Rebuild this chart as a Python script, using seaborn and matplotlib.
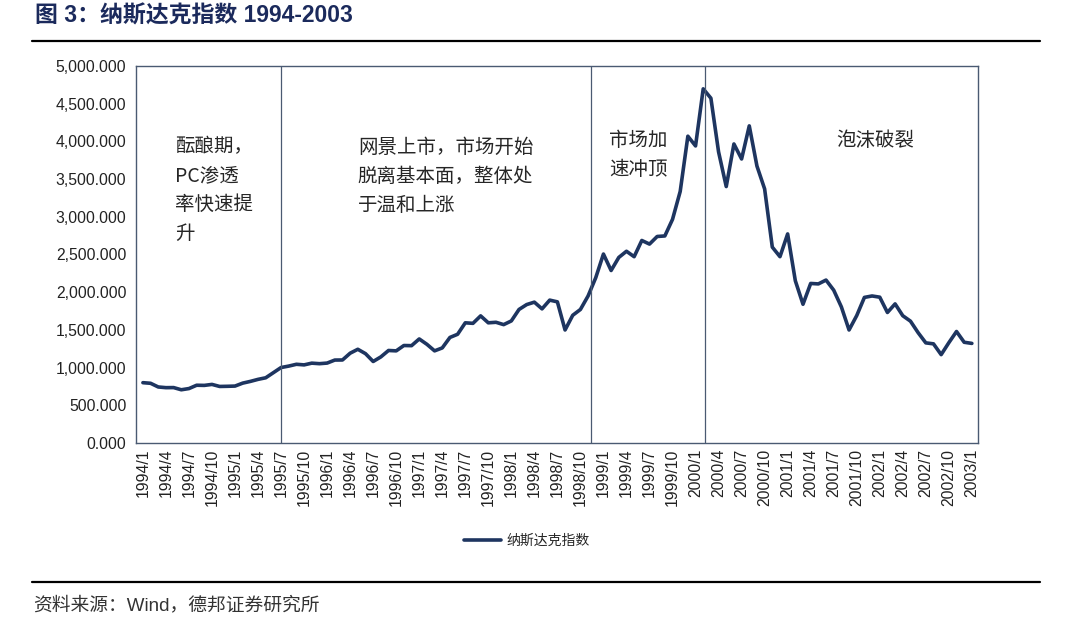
import matplotlib
matplotlib.use("Agg")
import matplotlib.pyplot as plt
import matplotlib.ticker as mticker
import pandas as pd
import seaborn as sns

# monthly closes, 1994/1 .. 2003/1
years = list(range(1994, 2004))
nasdaq = [
    800, 792, 743, 734, 735, 706, 722, 766, 764, 777, 750, 752,          # 1994
    755, 794, 817, 844, 865, 933, 1001, 1020, 1044, 1036, 1059, 1052,    # 1995
    1060, 1100, 1101, 1191, 1243, 1185, 1081, 1142, 1227, 1222, 1293, 1291,  # 1996
    1380, 1309, 1222, 1261, 1400, 1442, 1594, 1587, 1686, 1594, 1601, 1570,  # 1997
    1619, 1771, 1836, 1868, 1779, 1895, 1872, 1499, 1694, 1771, 1950, 2193,  # 1998
    2506, 2288, 2461, 2543, 2471, 2686, 2638, 2739, 2746, 2966, 3336, 4069,  # 1999
    3940, 4697, 4573, 3861, 3401, 3966, 3767, 4206, 3673, 3370, 2598, 2471,  # 2000
    2773, 2152, 1840, 2116, 2110, 2161, 2027, 1805, 1499, 1690, 1931, 1950,  # 2001
    1934, 1731, 1845, 1688, 1616, 1463, 1328, 1315, 1172, 1330, 1479, 1336,  # 2002
    1321,                                                                # 2003
]
months = [f"{y}/{m}" for y in years for m in range(1, 13)][:len(nasdaq)]

phase_breaks = [18, 58.4, 73.2]
phase_notes = [
    (4.2, 4070, "酝酿期，\nPC渗透\n率快速提\n升"),
    (28.0, 4060, "网景上市，市场开始\n脱离基本面，整体处\n于温和上涨"),
    (60.7, 4150, "市场加\n速冲顶"),
    (90.4, 4150, "泡沫破裂"),
]

df = pd.DataFrame({"idx": range(len(nasdaq)), "month": months, "value": nasdaq})

sns.set_style("white")
plt.rcParams["font.family"] = ["Liberation Sans", "Noto Sans CJK SC", "DejaVu Sans"]

navy = "#1e3560"
fig = plt.figure(figsize=(10.8, 6.24), dpi=100)
ax = fig.add_axes([136 / 1080, 1 - 443 / 624, 842 / 1080, 377 / 624])

sns.lineplot(data=df, x="idx", y="value", ax=ax, color=navy, linewidth=2.6,
             label="纳斯达克指数", legend=False)

for b in phase_breaks:
    ax.axvline(b, color="#4a5a72", linewidth=0.9)

for x, y, t in phase_notes:
    ax.text(x, y, t, fontsize=14, color="#262626", va="top", ha="left",
            linespacing=1.5, family=["Noto Sans CJK SC"])

ax.set_xlim(-0.9, 108.8)
ax.set_ylim(0, 5000)
ax.set_yticks(range(0, 5001, 500))
ax.yaxis.set_major_formatter(mticker.FuncFormatter(lambda v, p: f"{v:,.3f}"))
ax.set_xticks(df.idx[::3])
ax.set_xticklabels(df.month[::3], rotation=90)
ax.set_xticks(df.idx, minor=True)
ax.tick_params(axis="x", which="both", direction="in", length=4, width=0.8,
               color="#4a5a72", labelsize=11.3, pad=4, labelcolor="#222222")
ax.tick_params(axis="y", direction="out", length=4, width=0.8, color="#4a5a72",
               labelsize=11.3, labelcolor="#222222", pad=3)
ax.set_xlabel("")
ax.set_ylabel("")
for s in ax.spines.values():
    s.set_color("#4a5a72")
    s.set_linewidth(1.0)

handles, labels = ax.get_legend_handles_labels()
fig.legend(handles, labels, loc="center", bbox_to_anchor=(527 / 1080, 1 - 541 / 624),
           frameon=False, prop={"family": "Noto Sans CJK SC", "size": 10},
           handlelength=2.7, handletextpad=0.4)

fig.text(35 / 1080, 1 - 16 / 624, "图 3：纳斯达克指数 1994-2003", fontsize=16.5,
         fontweight="bold", color="#1b2a5c", va="center", ha="left")
fig.add_artist(plt.Line2D([32 / 1080, 1040 / 1080], [1 - 41 / 624] * 2,
                          color="black", linewidth=1.6))
fig.add_artist(plt.Line2D([32 / 1080, 1040 / 1080], [1 - 582 / 624] * 2,
                          color="black", linewidth=1.6))
fig.text(33 / 1080, 1 - 605 / 624, "资料来源：Wind，德邦证券研究所", fontsize=13.5,
         color="#333333", va="center", ha="left")

fig.savefig("out.png", dpi=100)
